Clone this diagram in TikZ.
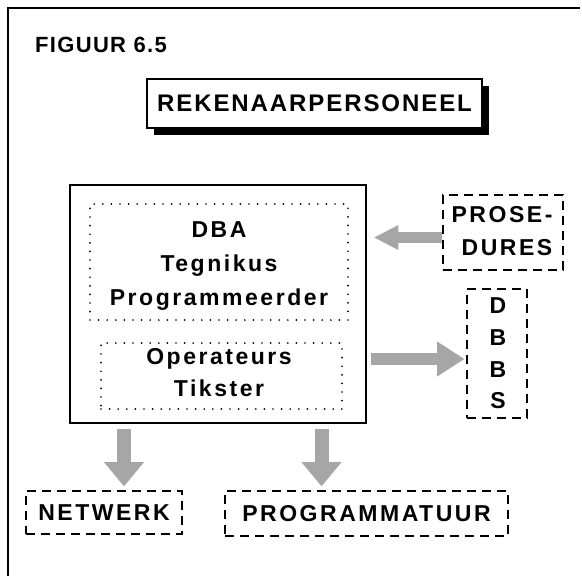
\documentclass[tikz,border=0pt]{standalone}
\usepackage{fontspec}
\setmainfont{Liberation Sans}
\newfontfamily\lblfont[LetterSpace=11]{Liberation Sans Bold}
\newfontfamily\titlefont[LetterSpace=8]{Liberation Sans Bold}
\newfontfamily\figfont[LetterSpace=6]{Liberation Sans Bold}
\usetikzlibrary{arrows.meta,shadows}

\tikzset{
  lbl/.style={font=\lblfont\fontsize{23}{33}\selectfont, inner sep=0pt},
  dashbox/.style={draw, line width=1.6pt, dash pattern=on 9pt off 6pt, inner sep=0pt},
  dotbox/.style={draw, line width=1.9pt, line cap=round, dash pattern=on 0pt off 8.6pt, inner sep=0pt},
  solidbox/.style={draw, line width=2.6pt, inner sep=0pt},
  rule/.style={line width=2.6pt, line cap=rect},
  blockarrow/.style n args={3}{draw=black!35, line width=#1,
    -{Triangle[width=#2,length=#3,line width=0pt]}},
}

\begin{document}
\begin{tikzpicture}[x=1pt,y=-1pt]
\useasboundingbox (0,0) rectangle (582,576);

% open frame: a rule along the top and one down the left side
\coordinate (frameTL) at (8,8);
\coordinate (frameTR) at (579,8);
\coordinate (frameBL) at (8,576);
\draw[rule] (frameTL) -- (frameTR);
\draw[rule] (frameTL) -- (frameBL);

% caption
\node[anchor=base west, inner sep=0pt, font=\figfont\fontsize{22}{26}\selectfont] (fig) at (35,52) {FIGUUR 6.5};

% heading with solid drop shadow
\node[draw, line width=1.4pt, fill=white, minimum width=335pt, minimum height=49pt, inner sep=0pt,
      font=\titlefont\fontsize{24}{28}\selectfont,
      drop shadow={shadow xshift=7pt, shadow yshift=-7pt, fill=black, opacity=1}]
      (title) at (314.5,103.5) {REKENAARPERSONEEL};

% personnel block with its two groups
\node[solidbox, minimum width=296pt, minimum height=238pt] (main) at (218,304) {};
\node[dotbox, minimum width=258pt, minimum height=116pt] (grp1) at (219,262) {};
\node[dotbox, minimum width=241pt, minimum height=66pt] (grp2) at (221.5,376) {};

\node[lbl, anchor=base] (dba)  at (219,237) {DBA};
\node[lbl, anchor=base] (tech) at (219,271) {Tegnikus};
\node[lbl, anchor=base] (prg)  at (219,305) {Programmeerder};
\node[lbl, anchor=base] (ops)  at (219,364) {Operateurs};
\node[lbl, anchor=base] (typ)  at (219,396) {Tikster};

% procedures
\node[dashbox, minimum width=120pt, minimum height=75pt] (pros) at (503,232.5) {};
\node[lbl, anchor=base] (pros1) at (502,222) {PROSE-};
\node[lbl, anchor=base] (pros2) at (507,255) {DURES};

% database management system
\node[dashbox, minimum width=60pt, minimum height=129pt] (dbbs) at (497,353.5) {};
\node[lbl, anchor=base] (dbbs1) at (498,313) {D};
\node[lbl, anchor=base] (dbbs2) at (498,345) {B};
\node[lbl, anchor=base] (dbbs3) at (498,377) {B};
\node[lbl, anchor=base] (dbbs4) at (498,408) {S};

% network and software
\node[dashbox, lbl, minimum width=156pt, minimum height=43pt] (net) at (104,512.5) {NETWERK};
\node[dashbox, lbl, minimum width=283pt, minimum height=45pt] (prog) at (366.5,513.5) {PROGRAMMATUUR};

% shaded block arrows
\draw[blockarrow={11pt}{25pt}{24pt}, shorten >=7pt]
  ([yshift=-5pt]pros.west) -- ([yshift=-5pt]pros.west -| main.east);
\draw[blockarrow={12pt}{35pt}{27pt}, shorten <=4pt, shorten >=2pt]
  ([yshift=-5.5pt]dbbs.west -| main.east) -- ([yshift=-5.5pt]dbbs.west);
\coordinate (d1) at (124,0);
\coordinate (d2) at (321.5,0);
\draw[blockarrow={14pt}{40pt}{24pt}, shorten <=5pt, shorten >=4pt]
  (d1 |- main.south) -- (d1 |- net.north);
\draw[blockarrow={14pt}{40pt}{24pt}, shorten <=5pt, shorten >=4pt]
  (d2 |- main.south) -- (d2 |- prog.north);
\end{tikzpicture}
\end{document}
